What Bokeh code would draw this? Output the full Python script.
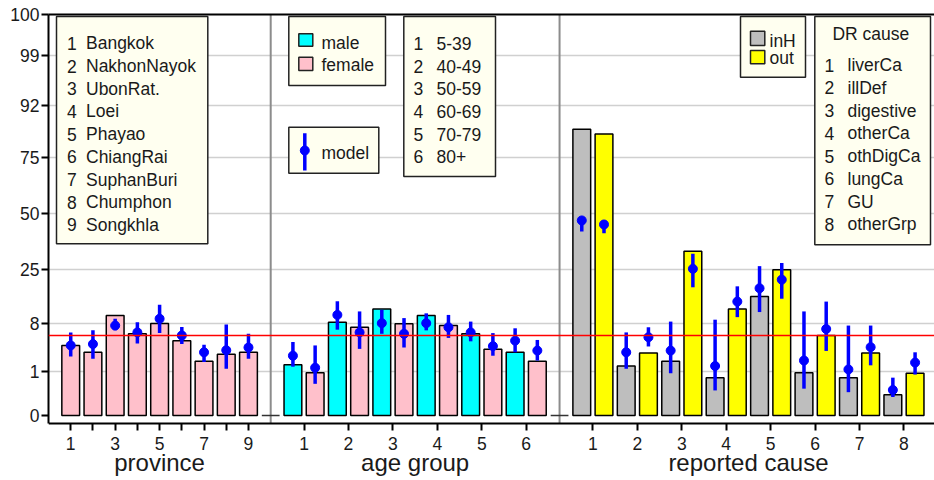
import numpy as np
from bokeh.plotting import figure
from bokeh.models import Range1d, FixedTicker, LinearAxis, Span
from bokeh.embed import file_html
from bokeh.resources import INLINE
from bokeh.core.properties import value

FONT = "Liberation Sans"

# ---------------- data (percent) ----------------
province_names = ["Bangkok", "NakhonNayok", "UbonRat.", "Loei", "Phayao",
                  "ChiangRai", "SuphanBuri", "Chumphon", "Songkhla"]
province_obs = [4.8, 3.8, 10.5, 6.5, 8.0, 5.5, 2.5, 3.5, 3.8]
province_model = [4.8, 5.0, 7.7, 6.7, 9.5, 6.25, 3.8, 4.1, 4.5]
province_lo = [3.2, 2.85, 7.0, 5.1, 6.6, 5.0, 2.4, 1.4, 2.85]
province_hi = [6.7, 7.0, 9.5, 8.4, 13.9, 7.5, 4.9, 7.85, 6.5]

age_groups = ["5-39", "40-49", "50-59", "60-69", "70-79", "80+"]
male_obs = [2.0, 8.4, 12.6, 10.5, 6.5, 3.8]
female_obs = [0.97, 7.45, 7.95, 7.7, 4.25, 2.5]
male_model = [3.3, 10.7, 8.1, 8.1, 6.7, 5.5]
male_lo = [1.7, 7.1, 6.5, 7.0, 5.4, 3.8]
male_hi = [5.3, 15.0, 12.3, 11.2, 8.6, 7.3]
female_model = [1.55, 6.7, 6.5, 7.45, 4.7, 4.05]
female_lo = [0.72, 4.3, 4.5, 5.9, 3.3, 2.6]
female_hi = [4.8, 11.8, 9.7, 10.7, 6.6, 5.6]

causes = ["liverCa", "illDef", "digestive", "otherCa", "othDigCa",
          "lungCa", "GU", "otherGrp"]
inH_obs = [84.2, 1.8, 2.5, 0.86, 16.5, 0.97, 0.86, 0.47]
out_obs = [82.7, 3.7, 33.2, 12.6, 24.9, 6.25, 3.7, 0.96]
inH_model = [46.9, 3.8, 4.05, 1.8, 19.1, 2.6, 1.3, 0.58]
inH_lo = [42.0, 1.4, 0.96, 0.57, 11.6, 0.61, 0.53, 0.42]
inH_hi = [48.4, 6.7, 8.6, 9.2, 26.5, 11.8, 7.7, 0.86]
out_model = [45.1, 6.0, 25.3, 14.9, 21.8, 7.2, 4.55, 2.3]
out_lo = [41.2, 4.65, 19.4, 10.0, 15.8, 4.0, 1.9, 0.93]
out_hi = [46.9, 7.45, 32.0, 19.7, 27.9, 14.9, 7.7, 3.8]

overall_rate = 6.25

panel_titles = ["province", "age group", "reported cause"]

y_tick_labels = [0, 1, 8, 25, 50, 75, 92, 99, 100]
y_tick_pos = [0, 44, 92, 146, 202, 258, 310, 360, 401]   # axis scale definition


def T(p):
    return np.interp(np.asarray(p, dtype=float), y_tick_labels, y_tick_pos)


# ---------------- layout ----------------
W, H = 934, 480
LEFT, TOP = 48, 14
UNIT = 22.22
ZERO_PX = 415
AXIS_PX = 423
frame_w = W - LEFT
y_top = ZERO_PX - TOP
y_bot = ZERO_PX - H
x_axis_loc = ZERO_PX - AXIS_PX


def dx(xpx):
    return (xpx - LEFT) / UNIT


def dy(ypx):
    return ZERO_PX - ypx


p = figure(width=W, height=H, x_range=Range1d(0, frame_w / UNIT),
           y_range=Range1d(y_bot, y_top), output_backend="svg",
           toolbar_location=None, min_border_left=LEFT, min_border_right=0,
           min_border_top=TOP, min_border_bottom=0)
p.outline_line_color = None
p.background_fill_color = "white"

# positions
prov_x = np.arange(1, 10)
male_x = 11 + 2 * np.arange(6)
female_x = male_x + 1
inH_x = 24 + 2 * np.arange(8)
out_x = inH_x + 1
separators = [10, 23]

# axes
xticks = list(prov_x) + list(male_x + 0.5) + list(inH_x + 0.5)
overrides = {}
for i in prov_x:
    overrides[float(i)] = str(i) if i % 2 == 1 else ""
for g in range(6):
    overrides[float(male_x[g] + 0.5)] = str(g + 1)
for c in range(8):
    overrides[float(inH_x[c] + 0.5)] = str(c + 1)

xa = p.xaxis[0]
xa.ticker = FixedTicker(ticks=[float(t) for t in xticks])
xa.major_label_overrides = overrides
xa.fixed_location = x_axis_loc
ya = p.yaxis[0]
ya.ticker = FixedTicker(ticks=y_tick_pos)
ya.major_label_overrides = {float(pos): str(lab) for pos, lab in zip(y_tick_pos, y_tick_labels)}
ya.bounds = (x_axis_loc, y_top)
for ax in (xa, ya):
    ax.axis_line_width = 2
    ax.axis_line_color = "black"
    ax.major_tick_out = 7
    ax.major_tick_in = 0
    ax.major_tick_line_width = 2
    ax.major_tick_line_color = "black"
    ax.minor_tick_line_color = None
    ax.major_label_text_font = FONT
    ax.major_label_text_font_size = "17.5px"
    ax.major_label_text_color = "#1a1a1a"
xa.major_label_standoff = 6
ya.major_label_standoff = 2

top_axis = LinearAxis(ticker=FixedTicker(ticks=[]), major_tick_line_color=None,
                      minor_tick_line_color=None, major_label_text_font_size="0px",
                      axis_line_width=2, axis_line_color="black")
p.add_layout(top_axis, "above")

p.xgrid.visible = False
p.ygrid.ticker = FixedTicker(ticks=y_tick_pos[1:-1])
p.ygrid.grid_line_color = "#D0D0D0"
p.ygrid.grid_line_width = 1.5

sep = np.array(separators, dtype=float)
p.segment(x0=sep, x1=sep, y0=[x_axis_loc] * 2, y1=[y_top] * 2, line_color="#8C8C8C", line_width=2)

# bars
BW = 0.8
OUT = dict(line_color="black", line_width=1.5)
p.vbar(x=prov_x, width=BW, top=T(province_obs), bottom=0, fill_color="pink", **OUT)
p.vbar(x=male_x, width=BW, top=T(male_obs), bottom=0, fill_color="cyan", **OUT)
p.vbar(x=female_x, width=BW, top=T(female_obs), bottom=0, fill_color="pink", **OUT)
p.vbar(x=inH_x, width=BW, top=T(inH_obs), bottom=0, fill_color="#BEBEBE", **OUT)
p.vbar(x=out_x, width=BW, top=T(out_obs), bottom=0, fill_color="yellow", **OUT)
p.segment(x0=sep - BW / 2, x1=sep + BW / 2, y0=[0, 0], y1=[0, 0], line_color="#333333", line_width=1.5)

p.add_layout(Span(location=float(T(overall_rate)), dimension="width", line_color="red", line_width=1.5))

# model estimates
for xs, m, lo, hi in [(prov_x, province_model, province_lo, province_hi),
                      (male_x, male_model, male_lo, male_hi),
                      (female_x, female_model, female_lo, female_hi),
                      (inH_x, inH_model, inH_lo, inH_hi),
                      (out_x, out_model, out_lo, out_hi)]:
    p.segment(x0=xs, x1=xs, y0=T(lo), y1=T(hi), line_color="blue", line_width=3.5)
    p.scatter(x=xs, y=T(m), size=9, color="blue")

# ---------------- legends ----------------
LEG_FILL = "#FFFFF0"
boxes_px = [  # left, right, top, bottom in pixels
    (56, 207.3, 16, 243.3),
    (288.3, 385, 16, 85),
    (288.3, 378.3, 126.7, 172.7),
    (403.3, 495, 16, 176),
    (740, 805, 16, 76.7),
    (814.3, 930, 16, 244.3),
]
p.quad(left=[dx(b[0]) for b in boxes_px], right=[dx(b[1]) for b in boxes_px],
       top=[dy(b[2]) for b in boxes_px], bottom=[dy(b[3]) for b in boxes_px],
       fill_color=LEG_FILL, line_color="#222222", line_width=1.5)

TXT = dict(text_font=value(FONT), text_font_size="17.5px", text_baseline="alphabetic",
           text_color="#1a1a1a")
SH = 5.5  # baseline correction


def text_col(xpx, y0px, step, items, align="left"):
    n = len(items)
    p.text(x=[dx(xpx)] * n, y=[dy(y0px - SH + step * i) for i in range(n)],
           text=items, text_align=align, **TXT)


LS = 22.7
text_col(66.5, 48.3, LS, [str(i + 1) for i in range(len(province_names))])
text_col(85.5, 48.3, LS, province_names)
text_col(413, 48.3, LS, [str(i + 1) for i in range(len(age_groups))])
text_col(436, 48.3, LS, age_groups)
text_col(824, 70, 22.76, [str(i + 1) for i in range(len(causes))])
text_col(847, 70, 22.76, causes)
text_col(870.3, 39.3, 0, ["DR cause"], align="center")
text_col(321, 48.3, 21.7, ["male", "female"])
text_col(321, 158.3, 0, ["model"])
text_col(769, 46, 17.3, ["inH", "out"])

# swatches
p.quad(left=[dx(298.3)] * 2, right=[dx(312.3)] * 2, top=[dy(33.3), dy(56.7)],
       bottom=[dy(45.7), dy(70)], fill_color=["cyan", "pink"], line_color="#222222", line_width=1.5)
p.quad(left=[dx(750)] * 2, right=[dx(764.3)] * 2, top=[dy(30.7), dy(50)],
       bottom=[dy(45), dy(63.3)], fill_color=["#BEBEBE", "yellow"], line_color="#222222", line_width=1.5)
p.segment(x0=[dx(304.3)], x1=[dx(304.3)], y0=[dy(132.7)], y1=[dy(170)], line_color="blue", line_width=3.5)
p.scatter(x=[dx(304.3)], y=[dy(150)], size=9, color="blue")

# axis titles per panel
panel_centers = [5, 16.5, 31.5]
p.text(x=panel_centers, y=[dy(467 - SH)] * 3, text=panel_titles, text_align="center",
       text_baseline="alphabetic", text_font=value(FONT), text_font_size="24px",
       text_color="#1a1a1a")

open("out.html", "w").write(file_html(p, INLINE))
